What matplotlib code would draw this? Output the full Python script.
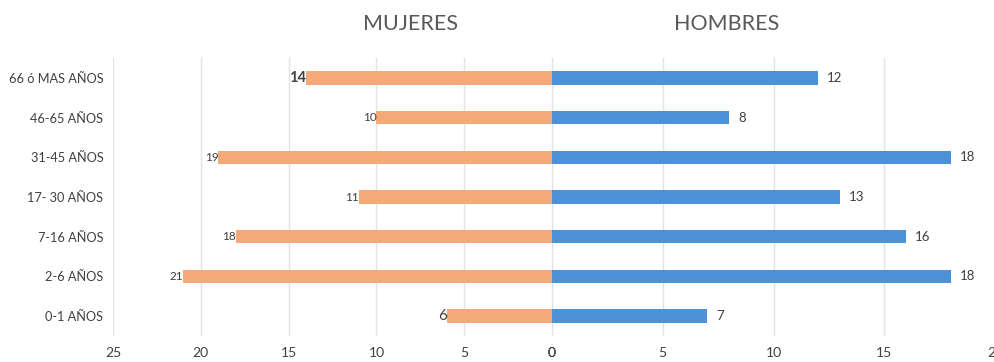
import matplotlib
matplotlib.use("Agg")
import matplotlib.pyplot as plt

# Age groups, bottom to top
categories = ["0-1 AÑOS", "2-6 AÑOS", "7-16 AÑOS", "17- 30 AÑOS",
              "31-45 AÑOS", "46-65 AÑOS", "66 ó MAS AÑOS"]
mujeres = [6, 21, 18, 11, 19, 10, 14]
hombres = [7, 18, 16, 13, 18, 8, 12]

left_ticks = [25, 20, 15, 10, 5, 0]
right_ticks = [0, 5, 10, 15, 20]

# Individual sizes/weights for the women's value labels
mujeres_label_size = [11, 8.5, 8.5, 8.5, 8.5, 8.5, 10.5]
mujeres_label_weight = ["normal", "normal", "normal", "normal", "normal", "normal", "bold"]

ORANGE = "#F5A878"
BLUE = "#4C92D8"
TEXT = "#404040"
GRID = "#E3E3E3"

plt.rcParams["font.family"] = ["Lato", "DejaVu Sans"]

fig = plt.figure(figsize=(9.95, 3.62), dpi=100)
ax_l = fig.add_axes([0.1136, 0.0718, 0.4412, 0.768])
ax_r = fig.add_axes([0.5548, 0.0718, 0.4452, 0.768])

y = list(range(len(categories)))
bar_h = 0.34

ax_l.barh(y, [-v for v in mujeres], height=bar_h, color=ORANGE, zorder=3)
ax_r.barh(y, hombres, height=bar_h, color=BLUE, zorder=3)

ax_l.set_xlim(-25, 0)
ax_r.set_xlim(0, 20)
for ax in (ax_l, ax_r):
    ax.set_ylim(-0.5, 6.5)
    for s in ax.spines.values():
        s.set_visible(False)
    ax.grid(axis="x", color=GRID, linewidth=1, zorder=0)
    ax.tick_params(axis="both", length=0, labelsize=10, colors=TEXT, pad=8)

ax_l.set_xticks([-t for t in left_ticks])
ax_l.set_xticklabels([str(t) for t in left_ticks])
ax_r.set_xticks(right_ticks)
ax_r.set_xticklabels([str(t) for t in right_ticks])

ax_l.set_yticks(y)
ax_l.set_yticklabels(categories, fontsize=9.2)
ax_l.tick_params(axis="y", pad=7)
ax_r.set_yticks([])

# Value labels
for yi, v, fs, fw in zip(y, mujeres, mujeres_label_size, mujeres_label_weight):
    ax_l.text(-v, yi, str(v), ha="right", va="center", fontsize=fs,
              fontweight=fw, color=TEXT, zorder=4)
for yi, v in zip(y, hombres):
    ax_r.text(v + 0.4, yi, str(v), ha="left", va="center", fontsize=9.5,
              color=TEXT, zorder=4)

fig.text(0.413, 0.935, "MUJERES", ha="center", va="center", fontsize=15.5, color="#595959")
fig.text(0.730, 0.935, "HOMBRES", ha="center", va="center", fontsize=15.5, color="#595959")

fig.savefig("out.png", dpi=100)
